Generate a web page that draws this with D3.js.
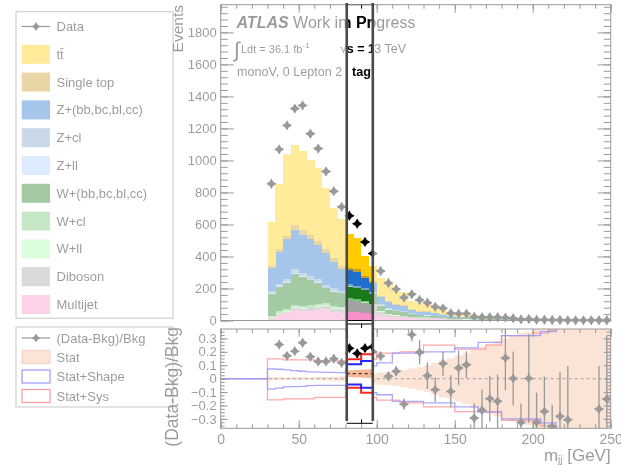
<!DOCTYPE html>
<html>
<head>
<meta charset="utf-8">
<script src="https://d3js.org/d3.v7.min.js"></script>
<style>
  body { margin: 0; background: #fff; }
  svg { font-family: "Liberation Sans", Arial, Helvetica, sans-serif; }
</style>
</head>
<body>
<svg id="chart" width="621" height="465"></svg>
<script>
// ---- data (bins of 5 GeV, first bin 30-35 GeV) ----
const binStart = 30, binWidth = 5;

const multijet = [12,35,48,65,58,62,70,72,52,45, 55,50,45,40, 25,22,20,18,14,12,11,10,8,6, 5,4,4,3,2.5,2.5,1.8,1.5,1.1,1, .8,.7,.6,.5,.4,.4,.3,.3,.3,.3];
const diboson  = [4,6,8,11,12,14,16,20,22,28, 70,70,65,55, 30,14,10,8,6,5,5,4,3,2, 2,2,1.5,1.2,1,1,.7,.6,.4,.4, .3,.3,.2,.2,.1,.1,.1,.1,.1,.1];
const wll      = [4,5,5,6,6,5,5,4,4,4, 4,4,3,3, 2,2,2,2,1,1,1,1,1,.5, .5,.5,.4,.3,.3,.3,.2,.2,.1,.1, .1,.1,.1,.1,0,0,0,0,0,0];
const wcl      = [10,12,13,14,14,13,12,11,10,9, 10,9,8,7, 5,4,4,3,3,2,2,2,1,1, 1,1,.8,.6,.5,.5,.4,.3,.2,.2, .2,.1,.1,.1,.1,.1,.1,.1,.1,.1];
const whf      = [136,149,158,194,180,156,129,94,92,84, 72,68,69,60, 30,26,22,20,15,13,12,10,8,6, 5,5,4,3,2.7,2.8,1.9,1.7,1.2,1.1, .9,.8,.6,.5,.4,.4,.3,.3,.3,.3];
const zll      = [5,6,7,7,7,6,6,5,5,4, 4,4,3,3, 2,2,2,2,1,1,1,1,1,.5, .5,.5,.4,.3,.3,.3,.2,.2,.1,.1, .1,.1,.1,.1,0,0,0,0,0,0];
const zcl      = [15,18,20,22,22,20,19,17,15,13, 12,11,10,9, 7,6,5,5,4,3,3,3,2,1.5, 1,1,1,.8,.7,.7,.5,.4,.3,.3, .2,.2,.1,.1,.1,.1,.1,.1,.1,.1];
const zhf      = [144,199,248,249,237,231,215,197,168,133, 88,89,61,60, 45,40,33,30,22,19,18,15,11,8, 6.5,6,5,4,3.5,3.6,2.5,2.2,1.6,1.4, 1.2,1,.8,.7,.6,.5,.5,.4,.4,.3];
const stop     = [12,16,20,30,28,28,27,25,22,20, 15,14,12,10, 8,7,6,6,5,4,4,3,3,2, 2,2,1.5,1.2,1,1,.7,.6,.4,.4, .3,.3,.2,.2,.2,.1,.1,.1,.1,.1];
const ttbar    = [272,406,513,501,496,468,454,380,314,295, 210,196,129,93, 111,107,82,82,52,47,52,44,30,22.5, 16.5,17,15.4,11.6,10.5,11.3,7.1,6.3,4.6,4, 3.4,3,2.2,2,1.6,1.5,1.5,1.4,1.2,1.1];

const dataEvents = [854,1069,1219,1324,1344,1167,1075,931,808,710, 655,605,491,418, 309,234,196,144,164,128,111,86,76,45, 43,43,24,20,20,20,18,14,7,9, 5,5,3,3,2,1,1,1,2,2];

const ratio    = [0.39,0.255,0.17,0.205,0.268,0.163,0.128,0.128,0.148,0.118, 0.19,0.15,0.19,0.2,
                  0.168,0.018,0.055,-0.19,0.328,0.197,0.022,-0.082,0.112,-0.095,
                  0.08,0.104,-0.293,-0.236,-0.149,-0.169,0.154,0.002,-0.326,0.002,
                  -0.326,-0.244,-0.356,-0.281,-0.306,-0.69,-0.67,-0.64,-0.226,-0.152];
const ratioErr = [0.02,0.015,0.015,0.015,0.015,0.015,0.016,0.017,0.018,0.02, 0.02,0.022,0.025,0.028,
                  0.03,0.03,0.035,0.04,0.05,0.09,0.1,0.09,0.09,0.12,
                  0.13,0.1,0.11,0.155,0.17,0.2,0.24,0.2,0.14,0.33,
                  0.22,0.26,0.16,0.33,0.4,0.3,0.3,0.3,0.32,0.47];

const statErr   = [.012,.01,.01,.01,.01,.01,.012,.013,.015,.017, .025,.028,.03,.035,
                   .045,.05,.055,.065,.075,.085,.1,.12,.14,.15,
                   .17,.19,.22,.24,.26,.28,.3,.32,.34,.35,
                   .37,.4,.4,.4,.4,.4,.4,.4,.4,.4];
const shapeUp   = [.072,.07,.065,.06,.055,.05,.048,.047,.047,.045, .07,.07,.095,.095,
                   .117,.117,.19,.19,.19,.19,.2,.2,.2,.2,
                   .23,.23,.23,.27,.27,.27,.32,.32,.32,.32,
                   .32,.35,.35,.38,.38,.38,.38,.38,.38,.38];
const shapeDown = [-.078,-.07,-.062,-.06,-.058,-.052,-.05,-.05,-.05,-.05, -.08,-.08,-.105,-.105,
                   -.12,-.12,-.17,-.17,-.17,-.17,-.18,-.18,-.18,-.18,
                   -.21,-.21,-.21,-.25,-.25,-.25,-.3,-.3,-.3,-.3,
                   -.3,-.33,-.33,-.4,-.4,-.4,-.4,-.4,-.4,-.4];
const sysUp     = [.148,.148,.14,.14,.14,.14,.135,.135,.135,.13, .108,.108,.145,.145,
                   .19,.19,.19,.2,.2,.2,.25,.25,.25,.25,
                   .22,.22,.22,.22,.25,.25,.32,.32,.32,.32,
                   .34,.34,.36,.38,.38,.38,.38,.38,.38,.38];
const sysDown   = [-.158,-.158,-.15,-.15,-.15,-.15,-.14,-.14,-.14,-.14, -.105,-.105,-.142,-.142,
                   -.16,-.16,-.16,-.18,-.18,-.18,-.21,-.21,-.21,-.21,
                   -.245,-.245,-.245,-.245,-.245,-.245,-.31,-.31,-.31,-.31,
                   -.31,-.35,-.35,-.4,-.4,-.4,-.4,-.4,-.4,-.4];

const yTicksMain  = [0,200,400,600,800,1000,1200,1400,1600,1800];
const yTicksRatio = [-0.3,-0.2,-0.1,0,0.1,0.2,0.3];
const xTicks      = [0,50,100,150,200,250];

// samples, bottom of the stack first
const samples = [
  { key: 'multijet', label: 'Multijet',          values: multijet, color: '#f78fc8' },
  { key: 'diboson',  label: 'Diboson',           values: diboson,  color: '#a2a2a2' },
  { key: 'wll',      label: 'W+ll',              values: wll,      color: '#a7fca7' },
  { key: 'wcl',      label: 'W+cl',              values: wcl,      color: '#70c570' },
  { key: 'whf',      label: 'W+(bb,bc,bl,cc)',   values: whf,      color: '#1a7a1a' },
  { key: 'zll',      label: 'Z+ll',              values: zll,      color: '#a7cdfc' },
  { key: 'zcl',      label: 'Z+cl',              values: zcl,      color: '#78a0ca' },
  { key: 'zhf',      label: 'Z+(bb,bc,bl,cc)',   values: zhf,      color: '#1f6fcc' },
  { key: 'stop',     label: 'Single top',        values: stop,     color: '#c89a22' },
  { key: 'ttbar',    label: 'tt\u0304',          values: ttbar,    color: '#ffcc00' }
];

// ---- layout ----
const x = d3.scaleLinear().domain([0, 250]).range([220.7, 610.7]);
const yMain = d3.scaleLinear().domain([0, 1973]).range([320.5, 4.7]);
const yRatio = d3.scaleLinear().domain([-0.37, 0.37]).range([428.3, 329]);

const bins = ttbar.map((_, i) => {
  const o = { x0: binStart + i * binWidth };
  samples.forEach(s => { o[s.key] = s.values[i]; });
  o.data = dataEvents[i];
  o.ratio = ratio[i];
  o.rerr = ratioErr[i];
  o.stat = statErr[i];
  o.shapeUp = shapeUp[i]; o.shapeDown = shapeDown[i];
  o.sysUp = sysUp[i]; o.sysDown = sysDown[i];
  return o;
});
const stacked = d3.stack().keys(samples.map(s => s.key))(bins);
const colorOf = Object.fromEntries(samples.map(s => [s.key, s.color]));

const svg = d3.select('#chart');
const defs = svg.append('defs');
defs.append('clipPath').attr('id', 'ratioClip').append('rect')
  .attr('x', x(0)).attr('y', yRatio.range()[1]).attr('width', x(250) - x(0)).attr('height', yRatio.range()[0] - yRatio.range()[1]);
const winX0 = x(80.8), winX1 = x(97.5);
defs.append('clipPath').attr('id', 'winClip').append('rect')
  .attr('x', winX0).attr('y', 4.5).attr('width', winX1 - winX0).attr('height', 424 - 4.5);

function star(cx, cy, r) {
  const w = r * 0.38;
  return `M${cx},${cy - r}L${cx + w},${cy - w}L${cx + r},${cy}L${cx + w},${cy + w}L${cx},${cy + r}L${cx - w},${cy + w}L${cx - r},${cy}L${cx - w},${cy - w}Z`;
}

// step outline: flat at zero from 0 to first bin, then one step per bin
function stepPoints(key) {
  const pts = [[0, 0], [binStart, 0]];
  bins.forEach(b => { pts.push([b.x0, b[key]]); pts.push([b.x0 + binWidth, b[key]]); });
  return pts;
}

function ticks(g, axis, scale, values, size, labels) {
  const a = axis(scale).tickValues(values).tickSize(size).tickPadding(labels ? labels.pad : 0)
    .tickFormat(labels ? labels.fmt : '');
  g.call(a);
  g.select('.domain').remove();
  g.attr('font-family', null).attr('font-size', labels ? labels.size : null).attr('color', '#000');
  g.selectAll('line').attr('stroke-width', 1);
}

function drawChart(g, opt) {
  const weight = opt.bold ? 'bold' : 'normal';

  // ---- main panel ----
  const main = g.append('g');
  main.selectAll('g.layer').data(stacked).join('g').attr('class', 'layer')
    .attr('fill', d => colorOf[d.key])
    .selectAll('rect').data(d => d).join('rect')
    .attr('x', d => x(d.data.x0))
    .attr('width', d => x(d.data.x0 + binWidth) - x(d.data.x0) + 0.3)
    .attr('y', d => yMain(d[1]))
    .attr('height', d => Math.max(0, yMain(d[0]) - yMain(d[1])))
    .attr('shape-rendering', 'crispEdges');

  const pts = main.append('g');
  pts.selectAll('line').data(bins).join('line')
    .attr('x1', d => x(d.x0)).attr('x2', d => x(d.x0 + binWidth))
    .attr('y1', d => yMain(d.data)).attr('y2', d => yMain(d.data))
    .attr('stroke', '#000').attr('stroke-width', 1);
  pts.selectAll('path').data(bins).join('path')
    .attr('d', d => star(x(d.x0 + binWidth / 2), yMain(d.data), 5.2))
    .attr('fill', '#000');

  // frame and ticks
  main.append('rect').attr('x', x(0)).attr('y', yMain(1973))
    .attr('width', x(250) - x(0)).attr('height', yMain(0) - yMain(1973))
    .attr('fill', 'none').attr('stroke', '#000').attr('stroke-width', 1);
  ticks(main.append('g').attr('transform', `translate(${x(0)},0)`), d3.axisLeft, yMain, yTicksMain, -13,
    { pad: 4, size: 13, fmt: d3.format('d') });
  ticks(main.append('g').attr('transform', `translate(${x(0)},0)`), d3.axisLeft, yMain, d3.range(0, 1973, 40), -7);
  ticks(main.append('g').attr('transform', `translate(${x(250)},0)`), d3.axisRight, yMain, yTicksMain, -13);
  ticks(main.append('g').attr('transform', `translate(${x(250)},0)`), d3.axisRight, yMain, d3.range(0, 1973, 40), -7);
  ticks(main.append('g').attr('transform', `translate(0,${yMain(1973)})`), d3.axisTop, x, xTicks, -8);
  ticks(main.append('g').attr('transform', `translate(0,${yMain(1973)})`), d3.axisTop, x, d3.range(0, 251, 10), -4);

  main.selectAll('.tick text').attr('font-weight', weight);

  // labels
  main.append('text').attr('transform', 'translate(182.5,5) rotate(-90)')
    .attr('text-anchor', 'end').attr('font-size', 15.5).attr('font-weight', weight).text('Events');

  const t1 = main.append('text').attr('x', 236.5).attr('y', 28).attr('font-size', 16);
  t1.append('tspan').attr('font-weight', 'bold').attr('font-style', 'italic').text('ATLAS');
  t1.append('tspan').attr('font-weight', weight).text('\u00a0Work in Progress');

  main.append('text').attr('x', 234).attr('y', 57).attr('font-size', 21).text('\u222b');
  const t2 = main.append('text').attr('x', 241).attr('y', 53).attr('font-size', 11).attr('font-weight', weight);
  t2.append('tspan').text('Ldt = 36.1 fb');
  t2.append('tspan').attr('font-size', 8).attr('dy', -5).text('-1');
  const t3 = main.append('text').attr('x', 340).attr('y', 53).attr('font-size', 12.5).attr('font-weight', weight);
  t3.append('tspan').text('\u221as = 13 TeV');

  main.append('text').attr('x', 237).attr('y', 76).attr('font-size', 12.6).attr('font-weight', weight)
    .text('monoV, 0 Lepton 2 tag');

  // ---- ratio panel ----
  const rp = g.append('g').attr('transform', `translate(0,${opt.shift})`);
  const inner = rp.append('g').attr('clip-path', 'url(#ratioClip)');

  const band = d3.area().x(d => x(d[0])).y0(d => yRatio(-d[1])).y1(d => yRatio(d[1]));
  inner.append('path').datum(stepPoints('stat')).attr('d', band).attr('fill', '#f5b998');

  const line = d3.line().x(d => x(d[0])).y(d => yRatio(d[1]));
  inner.append('line').attr('x1', x(0)).attr('x2', x(250)).attr('y1', yRatio(0)).attr('y2', yRatio(0))
    .attr('stroke', '#333').attr('stroke-width', 1.2).attr('stroke-dasharray', '3,3');
  const lw = opt.bold ? 2 : 1.3;
  [['sysUp', '#ff0000'], ['sysDown', '#ff0000'], ['shapeUp', '#0000ff'], ['shapeDown', '#0000ff']].forEach(([k, c]) => {
    inner.append('path').datum(stepPoints(k)).attr('d', line)
      .attr('fill', 'none').attr('stroke', c).attr('stroke-width', lw).attr('stroke-opacity', 0.85);
  });

  const shown = bins.filter(b => Math.abs(b.ratio) < 0.37 && b.x0 >= 35);
  const rpts = inner.append('g');
  rpts.selectAll('line.v').data(shown).join('line').attr('class', 'v')
    .attr('x1', d => x(d.x0 + binWidth / 2)).attr('x2', d => x(d.x0 + binWidth / 2))
    .attr('y1', d => yRatio(d.ratio - d.rerr)).attr('y2', d => yRatio(d.ratio + d.rerr))
    .attr('stroke', '#000').attr('stroke-width', 1.3);
  rpts.selectAll('line.h').data(shown).join('line').attr('class', 'h')
    .attr('x1', d => x(d.x0 + 1)).attr('x2', d => x(d.x0 + binWidth - 1))
    .attr('y1', d => yRatio(d.ratio)).attr('y2', d => yRatio(d.ratio))
    .attr('stroke', '#000').attr('stroke-width', 1.3);
  rpts.selectAll('path').data(shown).join('path')
    .attr('d', d => star(x(d.x0 + binWidth / 2), yRatio(d.ratio), 5.2)).attr('fill', '#000');

  rp.append('rect').attr('x', x(0)).attr('y', yRatio(0.37))
    .attr('width', x(250) - x(0)).attr('height', yRatio(-0.37) - yRatio(0.37))
    .attr('fill', 'none').attr('stroke', '#000').attr('stroke-width', 1);
  const rfmt = d => d === 0 ? '0' : d3.format('.1f')(d);
  ticks(rp.append('g').attr('transform', `translate(${x(0)},0)`), d3.axisLeft, yRatio, yTicksRatio, -7,
    { pad: 4, size: 13, fmt: rfmt });
  ticks(rp.append('g').attr('transform', `translate(${x(0)},0)`), d3.axisLeft, yRatio, d3.range(-0.35, 0.37, 0.025), -4);
  ticks(rp.append('g').attr('transform', `translate(${x(250)},0)`), d3.axisRight, yRatio, yTicksRatio, -7);
  ticks(rp.append('g').attr('transform', `translate(${x(250)},0)`), d3.axisRight, yRatio, d3.range(-0.35, 0.37, 0.025), -4);
  ticks(rp.append('g').attr('transform', `translate(0,${yRatio(0.37)})`), d3.axisTop, x, xTicks, -8);
  ticks(rp.append('g').attr('transform', `translate(0,${yRatio(0.37)})`), d3.axisTop, x, d3.range(0, 251, 10), -4);
  ticks(rp.append('g').attr('transform', `translate(0,${yRatio(-0.37)})`), d3.axisBottom, x, xTicks, -8,
    { pad: 6, size: 14, fmt: d3.format('d') });
  ticks(rp.append('g').attr('transform', `translate(0,${yRatio(-0.37)})`), d3.axisBottom, x, d3.range(0, 251, 10), -4);
  rp.selectAll('.tick text').attr('font-weight', weight);

  rp.append('text').attr('transform', 'translate(178,327) rotate(-90)')
    .attr('text-anchor', 'end').attr('font-size', 17.5).attr('font-weight', weight).text('(Data-Bkg)/Bkg');

  const xl = rp.append('text').attr('x', x(250)).attr('y', 461).attr('text-anchor', 'end')
    .attr('font-size', 17).attr('font-weight', weight);
  xl.append('tspan').text('m');
  xl.append('tspan').attr('font-size', 10).attr('dy', 2).text('jj');
  xl.append('tspan').attr('dy', -2).text(' [GeV]');
}

function drawLegend(g) {
  const lg = g.append('g').attr('font-size', 13);
  lg.append('rect').attr('x', 16).attr('y', 11.7).attr('width', 157).attr('height', 306.5)
    .attr('fill', '#fff').attr('stroke', '#777').attr('stroke-width', 1);
  const rowY = i => 26.5 + i * 27.8;
  lg.append('line').attr('x1', 21.7).attr('x2', 50).attr('y1', rowY(0)).attr('y2', rowY(0))
    .attr('stroke', '#000').attr('stroke-width', 1.2);
  lg.append('path').attr('d', star(36, rowY(0), 4.5)).attr('fill', '#000');
  lg.append('text').attr('x', 56.5).attr('y', rowY(0) + 4.5).text('Data');
  samples.slice().reverse().forEach((s, i) => {
    const cy = rowY(i + 1);
    lg.append('rect').attr('x', 21.7).attr('y', cy - 9.5).attr('width', 28.3).attr('height', 19).attr('fill', s.color);
    lg.append('text').attr('x', 56.5).attr('y', cy + 4.5).text(s.label);
  });

  lg.append('rect').attr('x', 16).attr('y', 327).attr('width', 157).attr('height', 80)
    .attr('fill', '#fff').attr('stroke', '#777').attr('stroke-width', 1);
  const r2 = [338, 357, 376.5, 396];
  lg.append('line').attr('x1', 21.7).attr('x2', 50).attr('y1', r2[0]).attr('y2', r2[0])
    .attr('stroke', '#000').attr('stroke-width', 1.2);
  lg.append('path').attr('d', star(36, r2[0], 4.5)).attr('fill', '#000');
  lg.append('text').attr('x', 56.5).attr('y', r2[0] + 4.5).text('(Data-Bkg)/Bkg');
  [['Stat', '#f5b998', '#ee9070'], ['Stat+Shape', '#fff', '#0000ff'], ['Stat+Sys', '#fff', '#ff0000']].forEach(([t, f, s], i) => {
    const cy = r2[i + 1];
    lg.append('rect').attr('x', 22).attr('y', cy - 6.5).attr('width', 28).attr('height', 13)
      .attr('fill', f).attr('stroke', s).attr('stroke-width', 1.2);
    lg.append('text').attr('x', 56.5).attr('y', cy + 4.5).text(t);
  });
}

// faded full chart (legend first so the axis titles sit on top of it)
const faded = svg.append('g').attr('opacity', 0.4);
drawLegend(faded);
drawChart(faded, { bold: false, shift: 0 });

// highlighted window
const win = svg.append('g').attr('clip-path', 'url(#winClip)');
win.append('rect').attr('x', winX0).attr('y', 0).attr('width', winX1 - winX0).attr('height', 465).attr('fill', '#fff');
drawChart(win, { bold: true, shift: -5 });

[winX0, winX1].forEach(xx => {
  svg.append('line').attr('x1', xx).attr('x2', xx).attr('y1', 3).attr('y2', 421)
    .attr('stroke', '#4a4a4a').attr('stroke-width', 2.6);
});
</script>
</body>
</html>
